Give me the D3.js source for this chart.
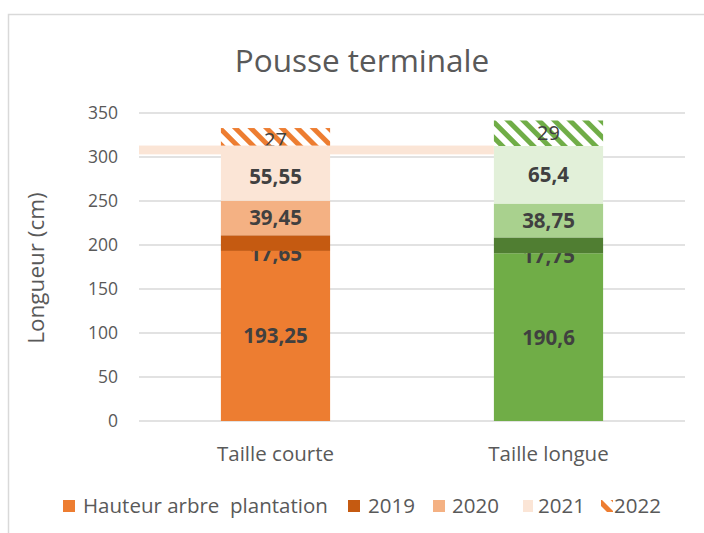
<!DOCTYPE html>
<html lang="fr">
<head>
<meta charset="UTF-8">
<title>Pousse terminale</title>
<script src="https://d3js.org/d3.v7.min.js"></script>
<style>
  body { margin: 0; background: #fff; }
  text { font-family: "Open Sans", sans-serif; }
</style>
</head>
<body>
<div id="chart"></div>
<script>
  // data
  var categories = ["Taille courte", "Taille longue"];
  var series = ["Hauteur arbre  plantation", "2019", "2020", "2021", "2022"];
  var hauteur = [193.25, 190.6];
  var v2019 = [17.65, 17.75];
  var v2020 = [39.45, 38.75];
  var v2021 = [55.55, 65.4];
  var v2022 = [27, 29];
  var yTicks = [0, 50, 100, 150, 200, 250, 300, 350];

  var orange = ["#ED7D31", "#C55A11", "#F4B183", "#FBE5D6", "#ED7D31"];
  var green = ["#70AD47", "#507E32", "#A9D18E", "#E2F0D9", "#70AD47"];

  var W = 704, H = 533;
  var margin = {top: 113, right: 19, bottom: 112, left: 139};
  var width = W - margin.left - margin.right,
      height = H - margin.top - margin.bottom;

  var svg = d3.select("#chart").append("svg")
      .attr("width", W).attr("height", H);

  // chart frame
  svg.append("path")
    .attr("d", "M8.5," + H + "V14.5H" + W)
    .attr("fill", "none").attr("stroke", "#d9d9d9").attr("stroke-width", 1.5);

  var defs = svg.append("defs");
  [["hatchOrange", orange[4]], ["hatchGreen", green[4]]].forEach(function(p) {
    var pat = defs.append("pattern")
      .attr("id", p[0]).attr("patternUnits", "userSpaceOnUse")
      .attr("width", 11).attr("height", 11)
      .attr("patternTransform", "rotate(-45)");
    pat.append("rect").attr("width", 11).attr("height", 11).attr("fill", "#fff");
    pat.append("rect").attr("width", 5).attr("height", 11).attr("fill", p[1]);
  });

  var g = svg.append("g")
    .attr("transform", "translate(" + margin.left + "," + margin.top + ")");

  var x = d3.scaleBand().domain(categories).range([0, width])
    .paddingInner(0.6).paddingOuter(0.3);
  var y = d3.scaleLinear().domain([0, 350]).range([height, 0]);

  // gridlines
  g.append("g").selectAll("line").data(yTicks).join("line")
    .attr("x1", 0).attr("x2", width)
    .attr("y1", function(d) { return y(d); }).attr("y2", function(d) { return y(d); })
    .attr("stroke", "#d9d9d9").attr("stroke-width", 1.5);

  var yAxis = g.append("g").call(d3.axisLeft(y).tickValues(yTicks).tickSize(0).tickPadding(21));
  yAxis.select(".domain").remove();
  yAxis.selectAll("text").attr("fill", "#595959").style("font-size", "17.5px");

  var xAxis = g.append("g")
    .attr("transform", "translate(0," + height + ")")
    .call(d3.axisBottom(x).tickSize(0).tickPadding(25));
  xAxis.select(".domain").remove();
  xAxis.selectAll("text").attr("fill", "#595959").style("font-size", "20.5px");

  // stacked segments
  var rows = categories.map(function(c, i) {
    return {cat: c, vals: [hauteur[i], v2019[i], v2020[i], v2021[i], v2022[i]],
            cols: i === 0 ? orange : green, hatch: i === 0 ? "url(#hatchOrange)" : "url(#hatchGreen)"};
  });
  var segs = [];
  rows.forEach(function(r) {
    var base = 0;
    r.vals.forEach(function(v, k) {
      segs.push({cat: r.cat, k: k, y0: base, y1: base + v, v: v,
                 fill: k === 4 ? r.hatch : r.cols[k]});
      base += v;
    });
  });

  g.append("g").selectAll("rect").data(segs.filter(function(d) { return d.k !== 1; })).join("rect")
    .attr("x", function(d) { return x(d.cat); })
    .attr("width", x.bandwidth())
    .attr("y", function(d) { return y(d.y1); })
    .attr("height", function(d) { return y(d.y0) - y(d.y1); })
    .attr("fill", function(d) { return d.fill; });

  var fmt = function(v) { return String(v).replace(".", ","); };

  g.append("g").selectAll("text").data(segs).join("text")
    .attr("x", function(d) { return x(d.cat) + x.bandwidth() / 2; })
    .attr("y", function(d) { return (y(d.y0) + y(d.y1)) / 2 + (d.k === 1 ? 10 : 0); })
    .attr("dy", "0.36em")
    .attr("text-anchor", "middle")
    .attr("fill", "#404040")
    .style("font-size", function(d) { return d.k === 4 ? "20px" : "20.5px"; })
    .style("font-weight", function(d) { return d.k === 4 ? "normal" : "bold"; })
    .text(function(d) { return fmt(d.v); });

  // 2019 segments drawn over their labels
  g.append("g").selectAll("rect").data(segs.filter(function(d) { return d.k === 1; })).join("rect")
    .attr("x", function(d) { return x(d.cat); })
    .attr("width", x.bandwidth())
    .attr("y", function(d) { return y(d.y1); })
    .attr("height", function(d) { return y(d.y0) - y(d.y1); })
    .attr("fill", function(d) { return d.fill; });

  // stray 2021 band seen in the original
  g.append("rect")
    .attr("x", 0).attr("width", x("Taille longue"))
    .attr("y", y(313)).attr("height", y(303) - y(313))
    .attr("fill", orange[3]);

  // axis title
  svg.append("text")
    .attr("transform", "translate(44,268) rotate(-90)")
    .attr("text-anchor", "middle")
    .attr("fill", "#595959").style("font-size", "22.5px")
    .text("Longueur (cm)");

  // title
  svg.append("text")
    .attr("x", 362).attr("y", 72)
    .attr("text-anchor", "middle")
    .attr("fill", "#595959").style("font-size", "31.5px")
    .text("Pousse terminale");

  // legend
  var legX = [63, 348, 433, 523, 601];
  var legGap = [20, 20, 19, 15, 13];
  var leg = svg.append("g").selectAll("g").data(series).join("g")
    .attr("transform", function(d, i) { return "translate(" + legX[i] + ",506)"; });
  leg.append("rect")
    .attr("x", 0).attr("y", -6).attr("width", function(d, i) { return i === 3 ? 10 : 12; }).attr("height", 12)
    .attr("fill", function(d, i) { return i === 4 ? "url(#hatchOrange)" : orange[i]; });
  leg.append("text")
    .attr("x", function(d, i) { return legGap[i]; }).attr("dy", "0.36em")
    .attr("fill", "#595959").style("font-size", "20.5px")
    .attr("xml:space", "preserve")
    .text(function(d) { return d; });
</script>
</body>
</html>
